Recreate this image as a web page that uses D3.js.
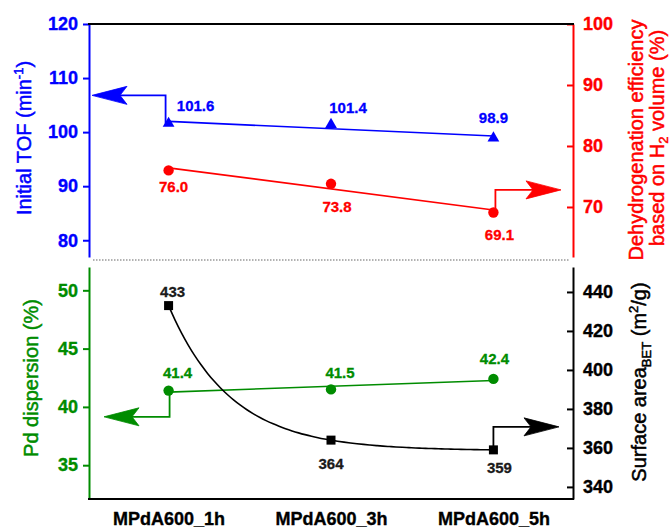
<!DOCTYPE html>
<html>
<head>
<meta charset="utf-8">
<script src="https://cdn.jsdelivr.net/npm/d3@7"></script>
<style>
  body { margin: 0; background: #fff; }
  svg { font-family: "Liberation Sans", Arial, sans-serif; }
</style>
</head>
<body>
<div id="chart"></div>
<script>
var width = 672
var height = 529

// Data
var samples = ["MPdA600_1h", "MPdA600_3h", "MPdA600_5h"]
var tof = [101.6, 101.4, 98.9]
var efficiency = [76.0, 73.8, 69.1]
var dispersion = [41.4, 41.5, 42.4]
var surfaceArea = [433, 364, 359]

var tofTicks = [80, 90, 100, 110, 120]
var effTicks = [70, 80, 90, 100]
var dispTicks = [35, 40, 45, 50]
var areaTicks = [340, 360, 380, 400, 420, 440]

var marginLeft = 89
var marginRight = 99
var top1 = 24, bottom1 = 257
var top2 = 267, bottom2 = 499

var blue = "#0000ff"
var red = "#ff0000"
var green = "#008c00"

var svg = d3.select("#chart")
  .append("svg")
  .attr("width", width)
  .attr("height", height)

// X scale shared by both panels
var xScale = d3.scalePoint()
  .domain(samples)
  .range([marginLeft, width - marginRight])
  .padding(0.49)

// Y scales
var yTof = d3.scaleLinear().domain([76.9, 120]).range([bottom1, top1])
var yEff = d3.scaleLinear().domain([61.8, 100]).range([bottom1, top1])
var yDisp = d3.scaleLinear().domain([32.1, 52]).range([bottom2, top2])
var yArea = d3.scaleLinear().domain([333.8, 452.8]).range([bottom2, top2])

function drawAxis(axis, x, color) {
  var g = svg.append("g")
    .attr("transform", `translate(${x},0)`)
    .call(axis)
    .attr("font-family", null)
    .attr("font-size", null)
  g.select(".domain").attr("stroke", color).attr("stroke-width", 2)
  g.selectAll(".tick line").attr("stroke", color).attr("stroke-width", 2)
  g.selectAll(".tick text")
    .attr("fill", color)
    .style("font-size", "18px")
    .style("font-weight", "bold")
    .style("stroke", color)
    .style("stroke-width", 0.35)
  return g
}

// Render Y axes
drawAxis(d3.axisLeft(yTof).tickValues(tofTicks).tickSize(6).tickSizeOuter(0).tickPadding(5), marginLeft, blue)
drawAxis(d3.axisRight(yEff).tickValues(effTicks).tickSize(-6).tickSizeOuter(0).tickPadding(10), width - marginRight, red)
drawAxis(d3.axisLeft(yDisp).tickValues(dispTicks).tickSize(6).tickSizeOuter(0).tickPadding(5), marginLeft, green)
drawAxis(d3.axisRight(yArea).tickValues(areaTicks).tickSize(-6).tickSizeOuter(0).tickPadding(10), width - marginRight, "#000")

// Frame lines
svg.append("line")
  .attr("x1", marginLeft - 1).attr("x2", width - marginRight + 1)
  .attr("y1", top1).attr("y2", top1)
  .attr("stroke", "#000").attr("stroke-width", 2)

svg.append("line")
  .attr("x1", marginLeft - 1).attr("x2", width - marginRight + 1)
  .attr("y1", bottom2).attr("y2", bottom2)
  .attr("stroke", "#000").attr("stroke-width", 2)

// dotted separator between panels
svg.append("line")
  .attr("x1", marginLeft + 4).attr("x2", width - marginRight - 3)
  .attr("y1", (bottom1 + top2) / 2 - 2).attr("y2", (bottom1 + top2) / 2 - 2)
  .attr("stroke", "#666").attr("stroke-width", 1.2)
  .attr("stroke-dasharray", "1.5,1.5")

// X axis labels
var xAxisG = svg.append("g")
  .attr("transform", `translate(0,${bottom2})`)
  .call(d3.axisBottom(xScale).tickSize(0).tickPadding(13))
  .attr("font-family", null)
  .attr("font-size", null)
xAxisG.select(".domain").remove()
xAxisG.selectAll(".tick text")
  .attr("fill", "#000")
  .style("font-size", "18px")
  .style("font-weight", "bold")
  .style("stroke", "#000")
  .style("stroke-width", 0.35)

// Trend lines
function linearTrend(values) {
  var idx = d3.range(values.length)
  var mx = d3.mean(idx), my = d3.mean(values)
  var slope = d3.sum(values, (v, i) => (i - mx) * (v - my)) / d3.sum(idx, i => (i - mx) * (i - mx))
  return [0, values.length - 1].map(i => ({ x: xScale(samples[i]), v: my + slope * (i - mx) }))
}

// exponential decay fitted through the three surface area values
function expTrend(values) {
  var r = (values[2] - values[1]) / (values[1] - values[0])
  var b = (values[1] - values[0]) / (r - 1)
  var a = values[0] - b
  return d3.range(0, 2.0001, 0.04).map(t => ({ x: xScale(samples[0]) + t * xScale.step(), v: a + b * Math.pow(r, t) }))
}

function drawTrend(points, yScale, color, curve) {
  svg.append("path")
    .datum(points)
    .attr("fill", "none")
    .attr("stroke", color)
    .attr("stroke-width", 1.6)
    .attr("d", d3.line().x(d => d.x).y(d => yScale(d.v)).curve(curve || d3.curveLinear))
}

drawTrend(linearTrend(tof), yTof, blue)
drawTrend(linearTrend(efficiency), yEff, red)
drawTrend(linearTrend(dispersion), yDisp, green)
drawTrend(expTrend(surfaceArea), yArea, "#000", d3.curveMonotoneX)

// Axis pointer arrows
function arrow(values, index, yScale, level, tipX, color, shift) {
  var x0 = xScale(samples[index]) + shift
  var y0 = yScale(values[index])
  var yl = yScale(level)
  var dir = tipX < x0 ? -1 : 1
  svg.append("path")
    .attr("fill", "none")
    .attr("stroke", color)
    .attr("stroke-width", 1.8)
    .attr("d", `M${x0},${y0}V${yl}H${tipX - dir * 20}`)
  var p = d3.path()
  p.moveTo(tipX, yl)
  p.lineTo(tipX - dir * 35, yl - 9)
  p.lineTo(tipX - dir * 28, yl)
  p.lineTo(tipX - dir * 35, yl + 9)
  p.closePath()
  svg.append("path")
    .attr("d", p.toString())
    .attr("fill", color)
    .attr("stroke", color)
    .attr("stroke-width", 0.8)
    .attr("stroke-linejoin", "round")
}

arrow(tof, 0, yTof, 106.8, marginLeft + 3, blue, -3)
arrow(efficiency, 2, yEff, 72.8, width - marginRight - 12, red, 2)
arrow(dispersion, 0, yDisp, 39.15, marginLeft + 15, green, 1)
arrow(surfaceArea, 2, yArea, 370.8, width - marginRight - 14, "#000", 0)

// Markers
svg.selectAll(".tri")
  .data(tof)
  .enter()
  .append("path")
  .attr("class", "tri")
  .attr("d", d3.symbol(d3.symbolTriangle, 60))
  .attr("transform", (d, i) => `translate(${xScale(samples[i])},${yTof(d)})`)
  .attr("fill", blue)

svg.selectAll(".eff")
  .data(efficiency)
  .enter()
  .append("circle")
  .attr("class", "eff")
  .attr("cx", (d, i) => xScale(samples[i]))
  .attr("cy", d => yEff(d))
  .attr("r", 5.2)
  .attr("fill", red)

svg.selectAll(".disp")
  .data(dispersion)
  .enter()
  .append("circle")
  .attr("class", "disp")
  .attr("cx", (d, i) => xScale(samples[i]))
  .attr("cy", d => yDisp(d))
  .attr("r", 5.2)
  .attr("fill", green)

svg.selectAll(".area")
  .data(surfaceArea)
  .enter()
  .append("rect")
  .attr("class", "area")
  .attr("x", (d, i) => xScale(samples[i]) - 4.5)
  .attr("y", d => yArea(d) - 4.5)
  .attr("width", 9)
  .attr("height", 9)
  .attr("fill", "#000")

// Value labels
function valueLabels(values, yScale, color, fmt, dx, dy) {
  svg.append("g")
    .selectAll("text")
    .data(values)
    .enter()
    .append("text")
    .attr("x", (d, i) => xScale(samples[i]) + dx[i])
    .attr("y", (d, i) => yScale(d) + dy[i])
    .attr("text-anchor", "middle")
    .attr("dominant-baseline", "central")
    .style("font-size", "15px")
    .style("font-weight", "bold")
    .style("stroke", color)
    .style("stroke-width", 0.3)
    .attr("fill", color)
    .text(d => d3.format(fmt)(d))
}

valueLabels(tof, yTof, blue, ".1f", [27, 17, 0], [-18, -17, -21])
valueLabels(efficiency, yEff, red, ".1f", [5, 6, 6], [16, 23, 22])
valueLabels(dispersion, yDisp, green, ".1f", [9, 9, 1], [-18, -17, -20])
valueLabels(surfaceArea, yArea, "#1a1a1a", "d", [4, 0, 6], [-14, 23, 18])

// Axis titles
function title(x, y, color) {
  return svg.append("text")
    .attr("transform", `translate(${x},${y}) rotate(-90)`)
    .attr("text-anchor", "middle")
    .style("font-size", "20px")
    .style("stroke", color)
    .style("stroke-width", 0.5)
    .attr("fill", color)
}

var t1 = title(31, 138, blue)
t1.append("tspan").text("Initial TOF (min")
t1.append("tspan").attr("dy", -8).style("font-size", "13px").text("-1")
t1.append("tspan").attr("dy", 8).text(")")

var t2 = title(643, 140, red)
t2.text("Dehydrogenation efficiency")

var t3 = title(664, 138, red)
t3.append("tspan").text("based on H")
t3.append("tspan").attr("dy", 4).style("font-size", "13px").text("2")
t3.append("tspan").attr("dy", -4).text(" volume (%)")

var t4 = title(38, 378, green)
t4.text("Pd dispersion (%)")

var t5 = title(646, 382, "#000")
t5.append("tspan").text("Surface area")
t5.append("tspan").attr("dy", 5).style("font-size", "13px").text("BET")
t5.append("tspan").attr("dy", -5).text(" (m")
t5.append("tspan").attr("dy", -8).style("font-size", "13px").text("2")
t5.append("tspan").attr("dy", 8).text("/g)")
</script>
</body>
</html>
